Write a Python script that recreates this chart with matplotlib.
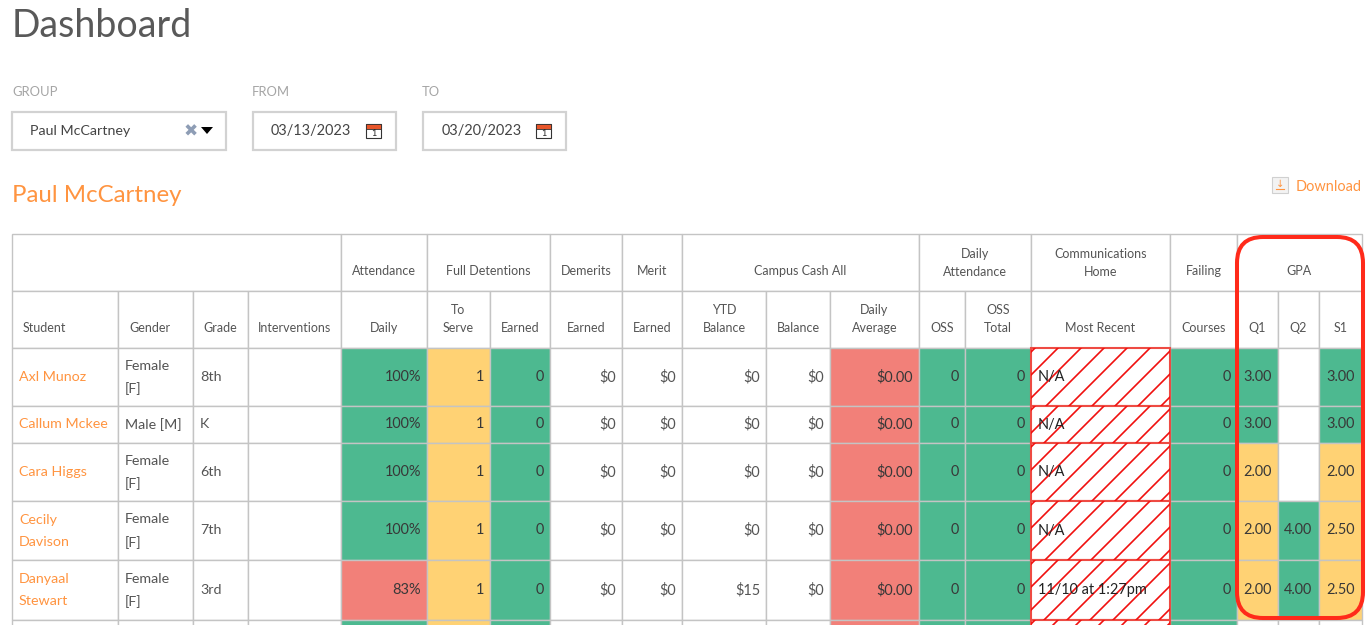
import matplotlib
matplotlib.use('Agg')
import matplotlib.pyplot as plt
from matplotlib.patches import Rectangle, FancyBboxPatch, Polygon

plt.rcParams['font.family'] = ['Lato', 'DejaVu Sans']

students = ['Axl Munoz', 'Callum Mckee', 'Cara Higgs', 'Cecily\nDavison', 'Danyaal\nStewart']
genders = ['Female\n[F]', 'Male [M]', 'Female\n[F]', 'Female\n[F]', 'Female\n[F]']
grades = ['8th', 'K', '6th', '7th', '3rd']
attendance = ['100%', '100%', '100%', '100%', '83%']
to_serve = ['1', '1', '1', '1', '1']
det_earned = ['0', '0', '0', '0', '0']
demerits = ['$0', '$0', '$0', '$0', '$0']
merit = ['$0', '$0', '$0', '$0', '$0']
ytd = ['$0', '$0', '$0', '$0', '$15']
balance = ['$0', '$0', '$0', '$0', '$0']
daily_avg = ['$0.00', '$0.00', '$0.00', '$0.00', '$0.00']
oss = ['0', '0', '0', '0', '0']
oss_total = ['0', '0', '0', '0', '0']
recent = ['N/A', 'N/A', 'N/A', 'N/A', '11/10 at 1:27pm']
failing = ['0', '0', '0', '0', '0']
q1 = ['3.00', '3.00', '2.00', '2.00', '2.00']
q2 = ['', '', '', '4.00', '4.00']
s1 = ['3.00', '3.00', '2.00', '2.50', '2.50']

top_headers = ['', 'Attendance', 'Full Detentions', 'Demerits', 'Merit', 'Campus Cash All',
               'Daily\nAttendance', 'Communications\nHome', 'Failing', 'GPA']
sub_headers = ['Student', 'Gender', 'Grade', 'Interventions', 'Daily', 'To\nServe', 'Earned', 'Earned',
               'Earned', 'YTD\nBalance', 'Balance', 'Daily\nAverage', 'OSS', 'OSS\nTotal',
               'Most Recent', 'Courses', 'Q1', 'Q2', 'S1']

# layout, in pixels of the screenshot
col_x = [12, 118, 193, 248, 341, 427, 490, 550, 622, 682, 766, 830, 919, 965, 1031, 1170, 1237, 1278, 1319, 1362]
row_y = [348, 406, 443, 501, 560, 620, 680]
top_span = [(0, 4), (4, 5), (5, 7), (7, 8), (8, 9), (9, 12), (12, 14), (14, 15), (15, 16), (16, 19)]

GREEN, YELLOW, RED = '#4DB990', '#FFD274', '#F28079'
LINE, TEXT, ORANGE = '#C4C4C4', '#555555', '#FF9440'
HATCH = '#F0100F'
DARK = '#383838'


def gpa_color(v):
    if v == '':
        return 'white'
    return GREEN if float(v) >= 3 else YELLOW


fig = plt.figure(figsize=(13.7, 6.25), dpi=100)
ax = fig.add_axes([0, 0, 1, 1])
ax.set_xlim(0, 1370)
ax.set_ylim(625, 0)
ax.axis('off')


def px(size):
    return size * 0.72


def box(x0, y0, x1, y1, fc='white', ec=LINE, lw=1.0, z=1):
    ax.add_patch(Rectangle((x0, y0), x1 - x0, y1 - y0, fc=fc, ec=ec, lw=lw, zorder=z))


def calendar(x, y):
    box(x, y, x + 15, y + 14, fc='white', ec='#333333', lw=0.8, z=3)
    box(x, y, x + 15, y + 5, fc='#E8562A', ec='#333333', lw=0.6, z=3)
    ax.text(x + 7.5, y + 9.5, '1', fontsize=px(9), color='#222222', ha='center', va='center', zorder=4)


def hatched(y0, y1):
    ax.add_patch(Rectangle((1031, y0), 139, y1 - y0, fc='white', ec='#EE4B43', lw=1.5, zorder=2))
    for x in range(1035 - 70, 1170 + 70, 23):
        ln, = ax.plot([x, x + 70], [y0 + 70, y0], color=HATCH, lw=1.2)
        ln.set_clip_path(Rectangle((1031, y0), 139, y1 - y0, transform=ax.transData))
        ln.set_zorder(2.5)


# page header
ax.text(12, 26, 'Dashboard', fontsize=px(37.5), color='#595959', va='center')
ax.text(12, 92, 'GROUP', fontsize=px(13), color='#A5A5A5', va='center')
ax.text(252, 92, 'FROM', fontsize=px(13), color='#A5A5A5', va='center')
ax.text(422, 92, 'TO', fontsize=px(13), color='#A5A5A5', va='center')
box(12, 112, 226, 150, ec='#D2D2D2', lw=1.6)
box(253, 112, 396, 150, ec='#D2D2D2', lw=1.6)
box(423, 112, 566, 150, ec='#D2D2D2', lw=1.6)
ax.text(30, 131, 'Paul McCartney', fontsize=px(14.2), color='#444444', va='center')
ax.text(191, 131.5, '\u2716', fontsize=px(17), color='#8E9DB5', ha='center', va='center', family='DejaVu Sans')
ax.add_patch(Polygon([(201, 127), (213, 127), (207, 134)], fc='black', ec='none', zorder=3))
ax.text(271, 131, '03/13/2023', fontsize=px(14.5), color='#444444', va='center')
ax.text(442, 131, '03/20/2023', fontsize=px(14.5), color='#444444', va='center')
calendar(366, 124)
calendar(536, 124)
ax.text(12, 196, 'Paul McCartney', fontsize=px(24), color=ORANGE, va='center')
box(1272, 177, 1288, 193, fc='#F3F3F3', ec='#D0D0D0', lw=0.8)
ax.text(1280, 184, '\u2193', fontsize=px(10), color=ORANGE, ha='center', va='center', family='DejaVu Sans', zorder=3)
ax.plot([1276, 1284], [189, 189], color=ORANGE, lw=0.8, zorder=3)
ax.text(1296, 187, 'Download', fontsize=px(14.5), color=ORANGE, va='center')

# header rows
for (a, b), label in zip(top_span, top_headers):
    box(col_x[a], 234, col_x[b], 291)
    ax.text((col_x[a] + col_x[b]) / 2, 262.5 if '\n' in label else 271, label, fontsize=px(12.5), color=TEXT,
            ha='center', va='center', linespacing=1.6, zorder=3)
for i, label in enumerate(sub_headers):
    box(col_x[i], 291, col_x[i + 1], 348)
    # labels sit at the bottom of the cell
    if i == 0:
        ax.text(23, 328, label, fontsize=px(12.5), color=TEXT, va='center', zorder=3)
    elif i == 1:
        ax.text(129, 328, label, fontsize=px(12.5), color=TEXT, va='center', zorder=3)
    else:
        ax.text((col_x[i] + col_x[i + 1]) / 2, 319.5 if '\n' in label else 328, label, fontsize=px(12.5),
                color=TEXT, ha='center', va='center', linespacing=1.6, zorder=3)

# body rows
columns = [attendance, to_serve, det_earned, demerits, merit, ytd, balance, daily_avg, oss, oss_total]
for r in range(len(students)):
    y0, y1 = row_y[r], row_y[r + 1]
    ym = (y0 + y1) / 2
    fills = [GREEN if attendance[r] == '100%' else RED, YELLOW, GREEN, 'white', 'white', 'white', 'white',
             RED, GREEN, GREEN]
    for c in range(4):
        box(col_x[c], y0, col_x[c + 1], y1)
    ax.text(19, ym, students[r], fontsize=px(14.3), color=ORANGE, va='center', linespacing=2.0, zorder=3)
    ax.text(125, ym + 0.5, genders[r], fontsize=px(14.3), color=TEXT, va='center', linespacing=2.0, zorder=3)
    ax.text(200, ym, grades[r], fontsize=px(14.3), color=TEXT, va='center', zorder=3)
    for k, col in enumerate(columns):
        c = k + 4
        box(col_x[c], y0, col_x[c + 1], y1, fc=fills[k])
        ax.text(col_x[c + 1] - 6, ym, col[r], fontsize=px(14.5), color=DARK if fills[k] != 'white' else TEXT,
                ha='right', va='center', zorder=3)
    # most recent communication, hatched
    hatched(y0, y1)
    ax.text(1038, ym, recent[r], fontsize=px(14.5), color='#222222', va='center', zorder=3)
    box(1170, y0, 1237, y1, fc=GREEN)
    ax.text(1231, ym, failing[r], fontsize=px(14.5), color=DARK, ha='right', va='center', zorder=3)
    for c, col in zip((16, 17, 18), (q1, q2, s1)):
        box(col_x[c], y0, col_x[c + 1], y1, fc=gpa_color(col[r]))
        if col[r]:
            ax.text((col_x[c] + col_x[c + 1]) / 2, ym, col[r], fontsize=px(14.5), color=DARK,
                    ha='center', va='center', zorder=3)

# next row is cut off by the bottom of the screenshot
y0, y1 = row_y[5], row_y[6]
cut_fills = ['white', 'white', 'white', 'white', GREEN, YELLOW, GREEN, 'white', 'white', 'white', 'white', RED,
             GREEN, GREEN, 'white', GREEN, 'white', 'white', 'white']
for c, fc in enumerate(cut_fills):
    box(col_x[c], y0, col_x[c + 1], y1, fc=fc)
hatched(y0, y1)

# red highlight around GPA
ax.add_patch(FancyBboxPatch((1255, 255), 90, 345, boxstyle='round,pad=18,rounding_size=26',
                            fc='none', ec='#FF2A1A', lw=2.9, zorder=6))

fig.savefig('out.png', dpi=100)
plt.close()
